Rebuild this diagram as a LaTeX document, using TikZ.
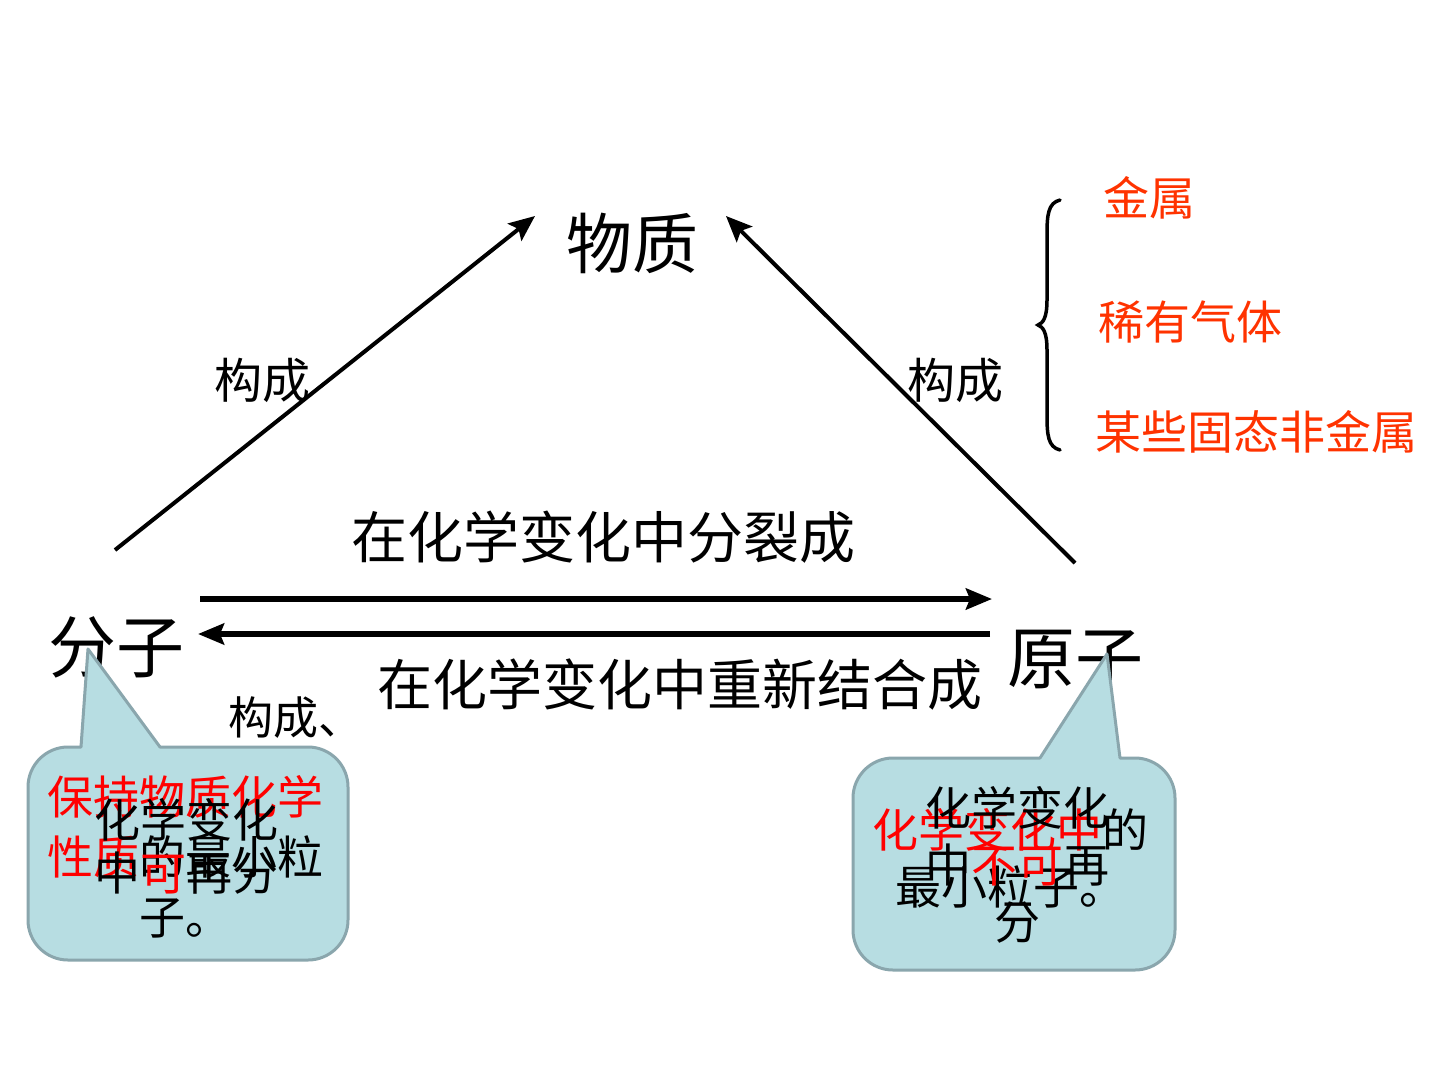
\documentclass[tikz,border=0pt]{standalone}
\usepackage{fontspec}
\setmainfont{Noto Sans CJK SC}
\usetikzlibrary{arrows.meta}
\definecolor{listred}{HTML}{FF3300}
\definecolor{calloutfill}{HTML}{B7DDE2}
\definecolor{calloutline}{HTML}{8AA6AD}
\tikzset{
  fs/.style={font=\fontsize{#1}{#1}\selectfont},
  lbl/.style={inner sep=0pt, text=black},
  listitem/.style={inner sep=0pt, text=listred, fs=46},
  tri/.style={line width=4pt, -{Stealth[length=26pt,width=22pt,inset=5pt]}},
  horiz/.style={line width=5.5pt, -{Stealth[length=26pt,width=21pt,inset=4pt]}},
  callout/.style={fill=calloutfill, draw=calloutline, line width=3pt, line join=round},
  ctext/.style={inner sep=0pt, align=center, text=black}
}
\begin{document}
\begin{tikzpicture}[x=1pt,y=-1pt]
\useasboundingbox[fill=white] (0,0) rectangle (1440,1080);

% main nodes
\node[lbl, fs=66] (wz) at (632,243) {物质};
\node[lbl, fs=68] (fz) at (116,647) {分子};
\node[lbl, fs=68] (yz) at (1075,660) {原子};

% triangle arrows
\coordinate (a1s) at (115,550);
\coordinate (a1e) at (535,216);
\coordinate (a2s) at (1075,563);
\coordinate (a2e) at (726,216);
\draw[tri] (a1s) -- (a1e);
\draw[tri] (a2s) -- (a2e);
\node[lbl, fs=48] (gc1) at (262,380) {构成};
\node[lbl, fs=48] (gc2) at (955,380) {构成};

% horizontal arrows
\coordinate (h1s) at (200,599);
\coordinate (h1e) at (992,599);
\coordinate (h2s) at (990,634);
\coordinate (h2e) at (198,634);
\draw[horiz] (h1s) -- (h1e);
\draw[horiz] (h2s) -- (h2e);
\node[lbl, fs=56] (split) at (603,537) {在化学变化中分裂成};
\node[lbl, fs=55] (recomb) at (680,685) {在化学变化中重新结合成};
\node[lbl, fs=45] (gc3) at (296,718) {构成、};

% brace and list
\draw[line width=3.5pt, line cap=round] (1060,200) .. controls (1048,203) and (1047,215) .. (1047,235)
  -- (1047,300) .. controls (1047,318) and (1043,323) .. (1038,325)
  .. controls (1043,327) and (1047,332) .. (1047,350)
  -- (1047,415) .. controls (1047,435) and (1048,447) .. (1060,450);
\node[listitem] (l1) at (1149,198) {金属};
\node[listitem] (l2) at (1190,322) {稀有气体};
\node[listitem] (l3) at (1256,432) {某些固态非金属};

% left callout
\path[callout] (81,747) -- (88,649) -- (160,747) [rounded corners=40pt] -- (348,747) -- (348,960) -- (28,960) -- (28,747) [sharp corners] -- cycle;
\node[ctext, font=\fontsize{46}{60}\selectfont] (ta1) at (185,857)
  {\textcolor{red}{保持物质化学}\\\textcolor{red}{性质}的最小粒\\子。};
\node[ctext, font=\fontsize{46}{53}\selectfont] (tb1) at (186,846)
  {化学变化\\中\textcolor{red}{可}再分};

% right callout
\path[callout] (1040,758) -- (1107,654) -- (1120,758) [rounded corners=40pt] -- (1175,758) -- (1175,970) -- (853,970) -- (853,758) [sharp corners] -- cycle;
\node[ctext, font=\fontsize{46}{57}\selectfont] (ta2) at (1010,858)
  {\textcolor{red}{化学变化中}的\\最小粒子。};
\node[ctext, font=\fontsize{46}{57}\selectfont] (tb2) at (1017,865)
  {化学变化\\中\textcolor{red}{不可}再\\分};
\end{tikzpicture}
\end{document}
